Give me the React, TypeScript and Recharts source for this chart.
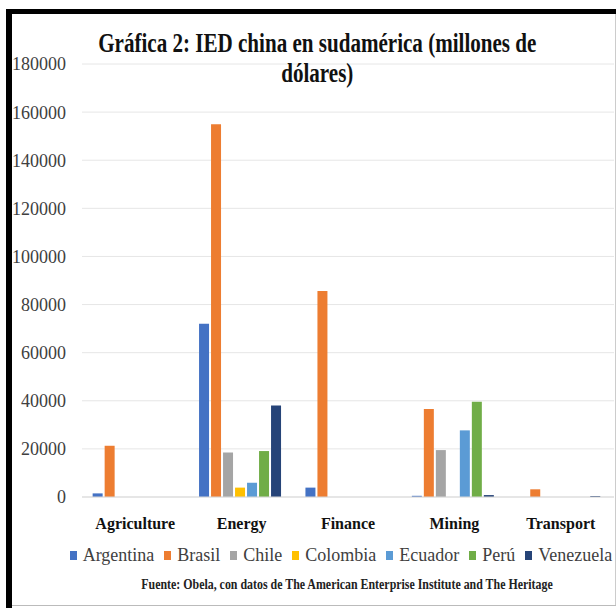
import { Bar, BarChart, CartesianGrid, Legend, XAxis, YAxis } from "recharts";

const categories = ["Agriculture", "Energy", "Finance", "Mining", "Transport"];
const argentina = [1500, 72000, 3900, 500, 0];
const brasil = [21300, 155000, 85600, 36600, 3200];
const chile = [0, 18500, 0, 19500, 0];
const colombia = [0, 3900, 0, 0, 0];
const ecuador = [0, 5900, 0, 27700, 0];
const peru = [0, 19100, 0, 39600, 0];
const venezuela = [0, 38000, 0, 800, 400];
const yTicks = [0, 20000, 40000, 60000, 80000, 100000, 120000, 140000, 160000, 180000];

const series = [
  { key: "Argentina", values: argentina, color: "#4472C4" },
  { key: "Brasil", values: brasil, color: "#ED7D31" },
  { key: "Chile", values: chile, color: "#A5A5A5" },
  { key: "Colombia", values: colombia, color: "#FFC000" },
  { key: "Ecuador", values: ecuador, color: "#5B9BD5" },
  { key: "Perú", values: peru, color: "#70AD47" },
  { key: "Venezuela", values: venezuela, color: "#264478" },
];

const data = categories.map((c, i) => {
  const row: Record<string, string | number> = { cat: c };
  series.forEach((s) => (row[s.key] = s.values[i]));
  return row;
});

const serif = "Liberation Serif, DejaVu Serif, serif";

const LegendBox = () => (
  <div
    style={{
      display: "flex",
      justifyContent: "center",
      gap: 10,
      fontFamily: serif,
      fontSize: 18,
      lineHeight: "20px",
      color: "#404040",
    }}
  >
    {series.map((s) => (
      <div key={s.key} style={{ display: "flex", alignItems: "center", gap: 6 }}>
        <span style={{ display: "inline-block", width: 7, height: 9, background: s.color }} />
        <span>{s.key}</span>
      </div>
    ))}
  </div>
);

export default function App() {
  return (
    <div style={{ position: "absolute", left: 0, top: 0, width: 616, height: 608, background: "#fff", overflow: "hidden" }}>
      <BarChart
        width={616}
        height={608}
        data={data}
        margin={{ top: 64, right: 2, bottom: 41, left: 0 }}
        barGap={2}
        barCategoryGap="10%"
      >
        <CartesianGrid vertical={false} stroke="#e6e6e6" />
        <XAxis
          dataKey="cat"
          height={30}
          tickSize={0}
          tickMargin={21}
          axisLine={{ stroke: "#d9d9d9" }}
          tick={{ fill: "#111", fontFamily: serif, fontSize: 16, fontWeight: "bold" }}
        />
        <YAxis
          width={82}
          domain={[0, 180000]}
          ticks={yTicks}
          interval={0}
          tickSize={0}
          tickMargin={16}
          axisLine={false}
          tick={{ fill: "#404040", fontFamily: serif, fontSize: 18 }}
        />
        <Legend
          content={() => <LegendBox />}
          height={40}
          wrapperStyle={{ top: 545, left: 66, width: 550 }}
        />
        {series.map((s) => (
          <Bar key={s.key} dataKey={s.key} fill={s.color} isAnimationActive={false} />
        ))}
      </BarChart>

      <div
        style={{
          position: "absolute",
          left: 14,
          width: 600,
          top: 28,
          textAlign: "center",
          fontFamily: serif,
          fontWeight: "bold",
          fontSize: 27,
          lineHeight: "30px",
          color: "#111",
          transform: "scaleX(0.78)",
          transformOrigin: "315px 0",
          whiteSpace: "nowrap",
        }}
      >
        <div>Gráfica 2: IED china en sudamérica (millones de</div>
        <div>dólares)</div>
      </div>

      <div
        style={{
          position: "absolute",
          left: 47,
          width: 600,
          top: 577,
          textAlign: "center",
          fontFamily: serif,
          fontWeight: "bold",
          fontSize: 14,
          lineHeight: "16px",
          color: "#222",
          transform: "scaleX(0.85)",
          transformOrigin: "300px 0",
          whiteSpace: "nowrap",
        }}
      >
        Fuente: Obela, con datos de The American Enterprise Institute and The Heritage
      </div>

      <div style={{ position: "absolute", left: 6, top: 9, width: 610, height: 5, background: "#000" }} />
      <div style={{ position: "absolute", left: 6, top: 9, width: 6, height: 599, background: "#000" }} />
      <div style={{ position: "absolute", left: 12, top: 605, width: 604, height: 1, background: "#bbb" }} />
      <div style={{ position: "absolute", left: 615, top: 14, width: 1, height: 591, background: "#ccc" }} />
    </div>
  );
}
